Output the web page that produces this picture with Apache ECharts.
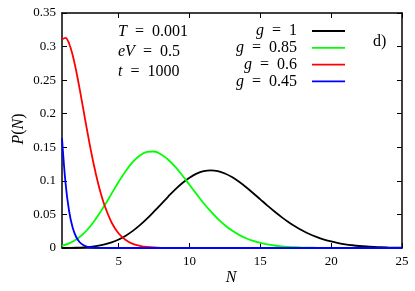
<!DOCTYPE html>
<html>
<head>
<meta charset="utf-8">
<script src="https://cdn.jsdelivr.net/npm/echarts@6/dist/echarts.min.js"></script>
<style>
html,body{margin:0;padding:0;background:#fff;}
#c{width:415px;height:291px;}
</style>
</head>
<body>
<div id="c"></div>
<script>
// ---- data ----
const halfN = [1,1.5,2,2.5,3,3.5,4,4.5,5,5.5,6,6.5,7,7.5,8,8.5,9,9.5,10,10.5,11,11.5,12,12.5,13,13.5,14,14.5,15,15.5,16,16.5,17,17.5,18,18.5,19,19.5,20,20.5,21,21.5,22,22.5,23,23.5,24,24.5,25];
const pG1 = [0.0001,0.0002,0.0004,0.0009,0.0018,0.0032,0.0053,0.0084,0.0127,0.0184,0.0255,0.0340,0.0437,0.0544,0.0655,0.0767,0.0874,0.0969,0.1048,0.1108,0.1144,0.1156,0.1144,0.1109,0.1056,0.0986,0.0905,0.0816,0.0724,0.0632,0.0543,0.0460,0.0383,0.0315,0.0256,0.0204,0.0161,0.0126,0.0097,0.0074,0.0055,0.0041,0.0030,0.0022,0.0016,0.0011,0.0008,0.0006,0.0004];
const pG085 = [0.0032,0.0068,0.0125,0.0210,0.0324,0.0468,0.0632,0.0810,0.0986,0.1148,0.1282,0.1378,0.1432,0.1437,0.1392,0.1315,0.1207,0.1080,0.0941,0.0802,0.0667,0.0544,0.0434,0.0339,0.0260,0.0196,0.0145,0.0105,0.0075,0.0053,0.0037,0.0025,0.0017,0.0011,0.0007,0.0005,0.0003,0.0002,0.0001,0.0001,0,0,0,0,0,0,0,0,0];
const redN = [1,1.25,1.5,1.75,2,2.25,2.5,2.75,3,3.25,3.5,3.75,4,4.5,5,5.5,6,6.5,7,8,9,10,12,15,20,25];
const pG06 = [0.3106,0.3130,0.3046,0.2875,0.2640,0.2365,0.2071,0.1777,0.1496,0.1237,0.1006,0.0806,0.0636,0.0380,0.0216,0.0118,0.0061,0.0031,0.0015,0.0003,0.0001,0,0,0,0,0];
const blueN = [1,1.25,1.5,1.75,2,2.25,2.5,2.75,3,3.5,4,5,7,10,15,20,25];
const pG045 = [0.1637,0.0966,0.0551,0.0304,0.0164,0.0086,0.0044,0.0022,0.0011,0.0003,0.0001,0,0,0,0,0,0];
const xTicks = [5,10,15,20,25];
const seriesNames = ['g = 1','g = 0.85','g = 0.6','g = 0.45'];
const seriesColors = ['#000000','#00ff00','#ff0000','#0000ff'];
const legendVals = ['1','0.85','0.6','0.45'];

function pairs(xs, ys){ return xs.map((x,i)=>[x, ys[i]]); }

const FF = '"Liberation Serif", "DejaVu Serif", serif';
const chart = echarts.init(document.getElementById('c'), null, {renderer:'canvas'});

const axisLineStyle = {color:'#000', width:1.5};
function xAx(pos, showLabel){
  return {
    type:'value', position:pos, min:1, max:25,
    axisLine:{show:true, onZero:false, lineStyle:axisLineStyle},
    axisTick:{show:true, inside:true, length:5, customValues:xTicks, lineStyle:{color:'#000', width:1}},
    axisLabel:{show:showLabel, customValues:xTicks, color:'#000', fontFamily:FF, fontSize:13, margin:7},
    splitLine:{show:false}
  };
}
function yAx(pos, showLabel){
  return {
    type:'value', position:pos, min:0, max:0.35, interval:0.05,
    axisLine:{show:true, onZero:false, lineStyle:axisLineStyle},
    axisTick:{show:true, inside:true, length:5, lineStyle:{color:'#000', width:1}},
    axisLabel:{show:showLabel, color:'#000', fontFamily:FF, fontSize:13, margin:6,
      formatter:v=>String(Math.round(v*100)/100)},
    splitLine:{show:false}
  };
}

const data = [pairs(halfN,pG1), pairs(halfN,pG085), pairs(redN,pG06), pairs(blueN,pG045)];

const rich = {
  i:{fontFamily:FF, fontStyle:'italic', fontSize:16, fill:'#000'},
  n:{fontFamily:FF, fontSize:16, fill:'#000'}
};

const graphics = [];
// annotations
const ann = [['T','  =  0.001'],['eV','  =  0.5'],['t','  =  1000']];
ann.forEach((a,k)=>{
  graphics.push({type:'text', left:118, top:24+k*20, style:{
    text:'{i|'+a[0]+'}{n|'+a[1]+'}', rich:rich, fill:'#000'}});
});
// legend
legendVals.forEach((v,k)=>{
  const y = 31 + k*16.8;
  graphics.push({type:'text', x:297, y:y, style:{
    text:'{i|g}{n|  =  '+v+'}', rich:rich, align:'right', verticalAlign:'middle', fill:'#000'}});
  graphics.push({type:'line', shape:{x1:312,y1:y,x2:345,y2:y}, style:{stroke:seriesColors[k], lineWidth:1.8}});
});
// panel label
graphics.push({type:'text', x:373, y:42, style:{text:'d)', font:'16px '+FF, fill:'#000', verticalAlign:'middle'}});
// axis titles
graphics.push({type:'text', x:231, y:278, style:{text:'N', font:'italic 16px '+FF, fill:'#000', align:'center', verticalAlign:'middle'}});
graphics.push({type:'text', x:19, y:129, rotation:Math.PI/2, style:{
  text:'{i|P}{n|(}{i|N}{n|)}', rich:rich, align:'center', verticalAlign:'middle', fill:'#000'}});

chart.setOption({
  animation:false,
  backgroundColor:'#fff',
  grid:{left:62, right:13, top:13, bottom:43},
  xAxis:[xAx('bottom',true), xAx('top',false)],
  yAxis:[yAx('left',true), yAx('right',false)],
  series: data.map((d,k)=>({
    name:seriesNames[k], type:'line', data:d, smooth:0.35,
    showSymbol:false, symbol:'none', clip:true,
    lineStyle:{color:seriesColors[k], width:1.8},
    itemStyle:{color:seriesColors[k]}
  })),
  graphic:graphics
});
</script>
</body>
</html>
